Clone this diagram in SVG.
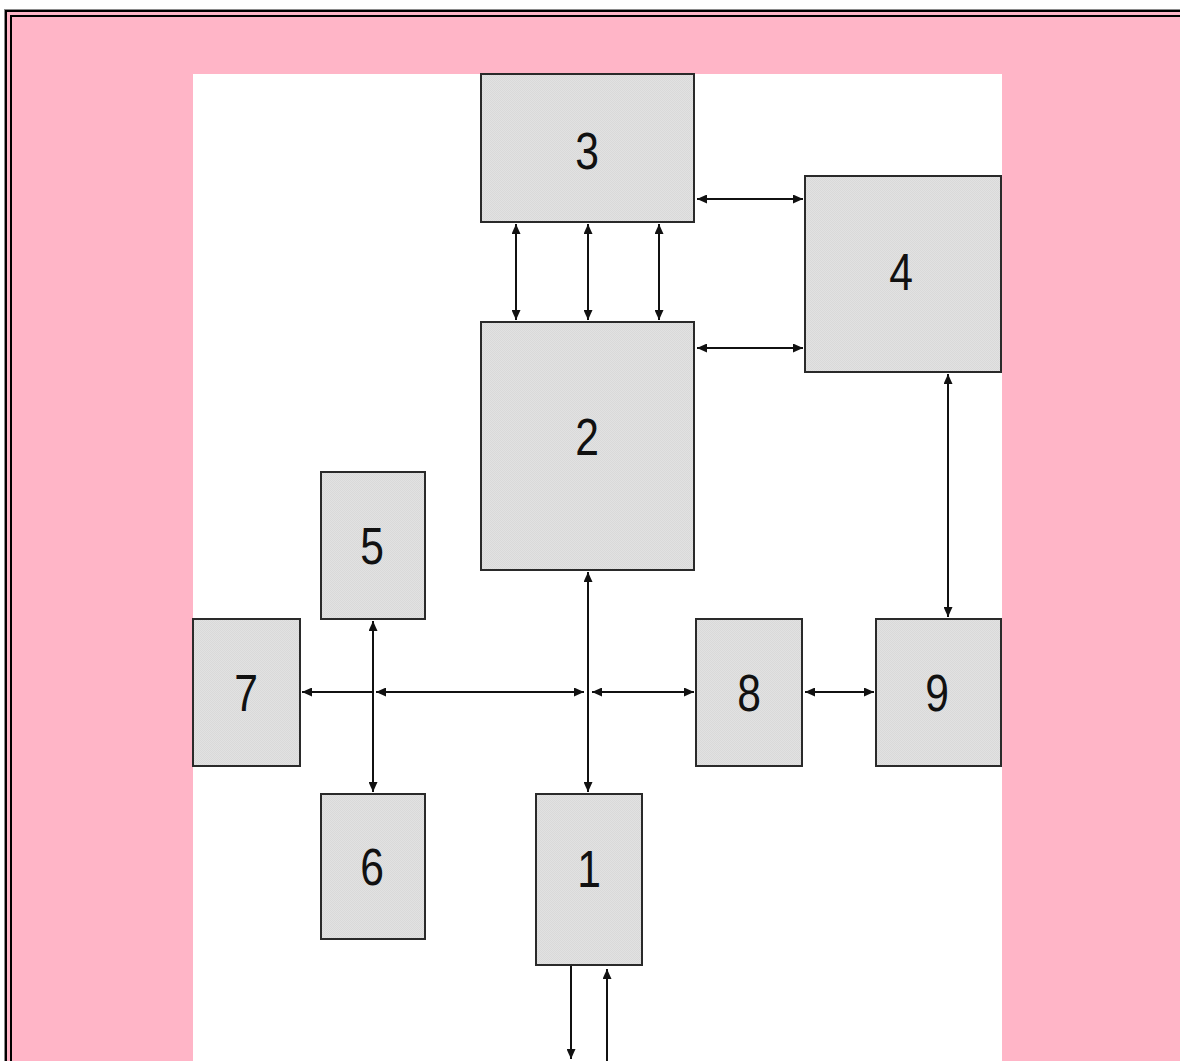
<svg xmlns="http://www.w3.org/2000/svg" width="1180" height="1061" viewBox="0 0 1180 1061">
  <style>
    .box { fill: url(#dither); stroke: #2a2a2a; stroke-width: 2; }
    .lbl { font-family: "Liberation Sans", Arial, sans-serif; font-size: 52px; fill: #111; text-anchor: middle; }
    .wire { stroke: #111; stroke-width: 2; fill: none; }
    .dbl { marker-start: url(#tip); marker-end: url(#tip); }
    .end { marker-end: url(#tip); }
  </style>
  <defs>
    <pattern id="dither" width="2" height="2" patternUnits="userSpaceOnUse">
      <rect width="2" height="2" fill="#e2e2e2"/>
      <rect width="1" height="1" fill="#d9d9d9"/>
      <rect x="1" y="1" width="1" height="1" fill="#d9d9d9"/>
    </pattern>
    <marker id="tip" viewBox="0 0 10 9" refX="10" refY="4.5" markerWidth="5" markerHeight="4.5" orient="auto-start-reverse" markerUnits="strokeWidth">
      <path d="M0,0 L10,4.5 L0,9 Z" fill="#111"/>
    </marker>
  </defs>

  <!-- page background and double frame -->
  <rect width="1180" height="1061" fill="#ffffff"/>
  <rect x="4" y="9" width="1190" height="1060" fill="#ffb5c7"/>
  <rect x="4.5" y="9.5" width="1190" height="1060" fill="none" stroke="#8a8a8a" stroke-width="1"/>
  <rect x="6" y="11" width="1190" height="1060" fill="none" stroke="#000" stroke-width="2"/>
  <rect x="11" y="16" width="1190" height="1060" fill="none" stroke="#000" stroke-width="2"/>

  <!-- white drawing sheet -->
  <rect x="193" y="74" width="809" height="990" fill="#ffffff"/>

  <!-- connectors -->
  <g id="connectors">
    <line class="wire dbl" x1="697" y1="199" x2="803" y2="199"/>
    <line class="wire dbl" x1="697" y1="348" x2="803" y2="348"/>
    <line class="wire dbl" x1="516" y1="224" x2="516" y2="320"/>
    <line class="wire dbl" x1="588" y1="224" x2="588" y2="320"/>
    <line class="wire dbl" x1="659" y1="224" x2="659" y2="320"/>
    <line class="wire dbl" x1="948" y1="374" x2="948" y2="617"/>
    <line class="wire dbl" x1="588" y1="572" x2="588" y2="792"/>
    <line class="wire dbl" x1="373" y1="621" x2="373" y2="792"/>
    <line class="wire end" x1="373" y1="692" x2="302" y2="692"/>
    <line class="wire dbl" x1="376" y1="692" x2="584" y2="692"/>
    <line class="wire dbl" x1="592" y1="692" x2="694" y2="692"/>
    <line class="wire dbl" x1="805" y1="692" x2="874" y2="692"/>
    <line class="wire end" x1="571" y1="966" x2="571" y2="1059"/>
    <line class="wire end" x1="607" y1="1064" x2="607" y2="969"/>
  </g>

  <!-- blocks -->
  <g id="n3"><rect class="box" x="481" y="74" width="213" height="148"/>
    <text class="lbl" transform="translate(587,169) scale(0.82,1)">3</text></g>
  <g id="n4"><rect class="box" x="805" y="176" width="196" height="196"/>
    <text class="lbl" transform="translate(901,290) scale(0.82,1)">4</text></g>
  <g id="n2"><rect class="box" x="481" y="322" width="213" height="248"/>
    <text class="lbl" transform="translate(587,455) scale(0.82,1)">2</text></g>
  <g id="n5"><rect class="box" x="321" y="472" width="104" height="147"/>
    <text class="lbl" transform="translate(372,564) scale(0.82,1)">5</text></g>
  <g id="n7"><rect class="box" x="193" y="619" width="107" height="147"/>
    <text class="lbl" transform="translate(246,711) scale(0.82,1)">7</text></g>
  <g id="n8"><rect class="box" x="696" y="619" width="106" height="147"/>
    <text class="lbl" transform="translate(749,711) scale(0.82,1)">8</text></g>
  <g id="n9"><rect class="box" x="876" y="619" width="125" height="147"/>
    <text class="lbl" transform="translate(937,711) scale(0.82,1)">9</text></g>
  <g id="n6"><rect class="box" x="321" y="794" width="104" height="145"/>
    <text class="lbl" transform="translate(372,885) scale(0.82,1)">6</text></g>
  <g id="n1"><rect class="box" x="536" y="794" width="106" height="171"/>
    <text class="lbl" transform="translate(589,887) scale(0.82,1)">1</text></g>
</svg>
